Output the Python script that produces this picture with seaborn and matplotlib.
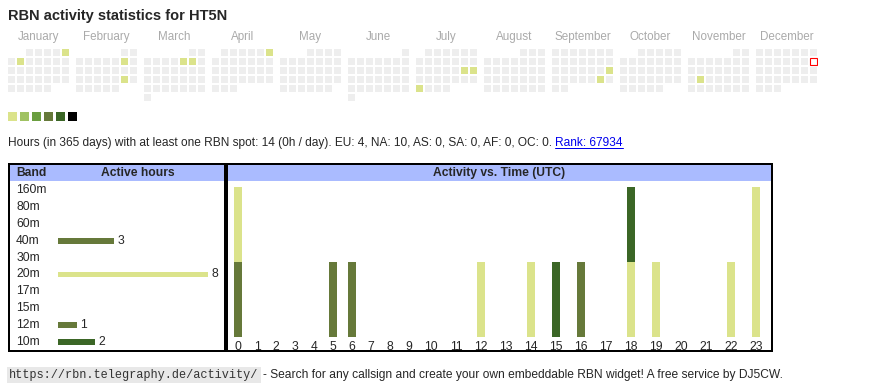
import numpy as np
import pandas as pd
import matplotlib
matplotlib.use("Agg")
import matplotlib.pyplot as plt
from matplotlib.colors import ListedColormap
from matplotlib.patches import Rectangle
from matplotlib.lines import Line2D
import seaborn as sns

# ---- data ----
callsign = "HT5N"
year = 2025
months = ["January", "February", "March", "April", "May", "June", "July",
          "August", "September", "October", "November", "December"]
active_days = ["2025-01-05", "2025-01-07", "2025-02-08", "2025-02-22",
               "2025-03-07", "2025-03-08", "2025-04-06", "2025-07-19",
               "2025-07-20", "2025-07-28", "2025-09-21", "2025-09-27",
               "2025-11-18"]
today = "2025-12-14"
level_colors = ["#dbe38b", "#a0c262", "#6a9e3f", "#66793a", "#3b6626", "#000000"]

bands = ["160m", "80m", "60m", "40m", "30m", "20m", "17m", "15m", "12m", "10m"]
band_hours = [0, 0, 0, 3, 0, 8, 0, 0, 1, 2]
band_colors = {"160m": "#cccccc", "80m": "#cccccc", "60m": "#cccccc",
               "40m": "#66793a", "30m": "#cccccc", "20m": "#dbe38b",
               "17m": "#cccccc", "15m": "#cccccc", "12m": "#66793a",
               "10m": "#3b6626"}

hours = list(range(24))
act_40m = [1, 0, 0, 0, 0, 1, 1, 0, 0, 0, 0, 0, 0, 0, 0, 0, 0, 0, 0, 0, 0, 0, 0, 0]
act_20m = [1, 0, 0, 0, 0, 0, 0, 0, 0, 0, 0, 0, 1, 0, 1, 0, 0, 0, 1, 1, 0, 0, 1, 2]
act_12m = [0, 0, 0, 0, 0, 0, 0, 0, 0, 0, 0, 0, 0, 0, 0, 0, 1, 0, 0, 0, 0, 0, 0, 0]
act_10m = [0, 0, 0, 0, 0, 0, 0, 0, 0, 0, 0, 0, 0, 0, 0, 1, 0, 0, 1, 0, 0, 0, 0, 0]

summary = ("Hours (in 365 days) with at least one RBN spot: 14 (0h / day). "
           "EU: 4, NA: 10, AS: 0, SA: 0, AF: 0, OC: 0.")
rank = 67934
url = "https://rbn.telegraphy.de/activity/"
footer = "- Search for any callsign and create your own embeddable RBN widget! A free service by DJ5CW."

# ---- style ----
W, H = 870, 390
HEADER_BLUE = "#aabbff"
FS = 8.7

sns.set_theme(style="white")
plt.rcParams["font.family"] = ["Liberation Sans", "DejaVu Sans"]

fig = plt.figure(figsize=(W / 100, H / 100), dpi=100)


def px_axes(x0, y0, x1, y1):
    # axes from pixel box (origin top-left)
    return fig.add_axes([x0 / W, 1 - y1 / H, (x1 - x0) / W, (y1 - y0) / H])


def px_text(x, y, s, **kw):
    return fig.text(x / W, 1 - y / H, s, **kw)


# ---- calendar ----
days = pd.date_range(f"{year}-01-01", f"{year}-12-31")
active = set(pd.to_datetime(active_days))
today_ts = pd.Timestamp(today)
cal_cmap = ListedColormap(["#eeeeee", level_colors[0]])

for m in range(12):
    md = days[days.month == m + 1]
    offset = md[0].weekday()
    grid = np.full((6, 7), np.nan)
    for d in md:
        r, c = (d.day - 1 + offset) // 7, d.weekday()
        grid[r, c] = 1.0 if d in active else 0.0
    ax = px_axes(7 + 68 * m, 48, 70 + 68 * m, 102)
    today_cell = None
    if today_ts.month == m + 1:
        today_cell = ((today_ts.day - 1 + offset) // 7, today_ts.weekday())
        grid[today_cell] = np.nan
    sns.heatmap(grid, ax=ax, cmap=cal_cmap, vmin=0, vmax=1, cbar=False,
                linewidths=1.44, linecolor="white",
                xticklabels=False, yticklabels=False)
    if today_cell is not None:
        r, c = today_cell
        ax.add_patch(Rectangle((c + 1 / 9, r + 1 / 9), 7 / 9, 7 / 9, fill=False,
                               edgecolor="red", lw=0.8))
    ax.set_title(months[m], color="#aaaaaa", fontsize=8.4, pad=6.1)

# level legend
lax = px_axes(6.5, 110, 78.5, 122)
sns.heatmap([list(range(len(level_colors)))], ax=lax, cmap=ListedColormap(level_colors),
            vmin=-0.5, vmax=len(level_colors) - 0.5, cbar=False,
            linewidths=2.16, linecolor="white", xticklabels=False, yticklabels=False)

# ---- texts ----
px_text(8, 20, f"RBN activity statistics for {callsign}", fontsize=10.5,
        fontweight="bold", va="baseline")
t_sum = px_text(8, 146, summary, fontsize=8.6, va="baseline")
renderer = fig.canvas.get_renderer()
ext = t_sum.get_window_extent(renderer=renderer)
t_rank = px_text(ext.x1 + 3, 146, f"Rank: {rank}", fontsize=8.6, va="baseline", color="#0000ee")
ext_r = t_rank.get_window_extent(renderer=renderer)
fig.add_artist(Line2D([ext_r.x0 / W, ext_r.x1 / W], [1 - 147.5 / H] * 2,
                      transform=fig.transFigure, color="#0000ee", lw=0.72))

t_url = px_text(9, 378, url, family=["Liberation Mono", "DejaVu Sans Mono"], fontsize=8.6,
                va="baseline", color="#333333",
                bbox=dict(facecolor="#e8e8e8", edgecolor="none", pad=1.6))
ext_u = t_url.get_window_extent(renderer=renderer)
px_text(ext_u.x1 + 5, 378, footer, fontsize=8.65, va="baseline")


# ---- framed tables ----
def framed_box(x0, x1):
    fr = px_axes(x0, 164.3, x1, 351.3)
    fr.set_xlim(0, 1)
    fr.set_ylim(0, 1)
    fr.axhspan((351.3 - 181) / (351.3 - 164.3), 1, color=HEADER_BLUE, lw=0)
    fr.set_xticks([])
    fr.set_yticks([])
    for s in fr.spines.values():
        s.set_visible(True)
        s.set_color("black")
        s.set_linewidth(1.44)
    return fr


framed_box(9, 224.6)
framed_box(227, 771.7)
px_text(16, 173, "Band", fontsize=FS, fontweight="bold", va="center")
px_text(138, 173, "Active hours", fontsize=FS, fontweight="bold", va="center", ha="center")
px_text(499.3, 173, "Activity vs. Time (UTC)", fontsize=FS, fontweight="bold",
        va="center", ha="center")

# band bars
bax = px_axes(58, 181.2, 223, 350.8)
bax.patch.set_alpha(0)
sns.barplot(x=band_hours, y=bands, hue=bands, palette=band_colors, orient="h",
            width=0.35, legend=False, errorbar=None, linewidth=0, saturation=1, ax=bax)
bax.set_xlim(0, (223 - 58) / 18.75)
for cont in bax.containers:
    v = cont.datavalues[0]
    if v > 0:
        bax.bar_label(cont, labels=[f"{v:g}"], padding=2.2, fontsize=FS)
bax.set_yticks(range(len(bands)), bands, ha="left", va="center")
bax.tick_params(axis="y", length=0, pad=30.2, labelsize=FS)
bax.set_xticks([])
bax.set_xlabel("")
bax.set_ylabel("")
sns.despine(ax=bax, left=True, bottom=True)

# activity vs time, stacked bottom-to-top in band order
aax = px_axes(228.5, 187, 768.5, 337)
aax.patch.set_alpha(0)
hour_w = np.where(np.array(hours) < 10, 19, 25)  # table columns widen for two-digit labels
hour_x = np.cumsum(hour_w) - hour_w / 2
layers = [("40m", act_40m), ("20m", act_20m), ("12m", act_12m), ("10m", act_10m)]
cum = np.cumsum([v for _, v in layers], axis=0)
for (band, _), top in reversed(list(zip(layers, cum))):
    sns.barplot(x=hour_x, y=top, native_scale=True, color=band_colors[band],
                width=8 / 19, errorbar=None, linewidth=0, saturation=1, ax=aax)
aax.set_xlim(0, hour_w.sum())
aax.set_ylim(0, cum[-1].max())
aax.set_xticks(hour_x, [str(h) for h in hours])
aax.set_yticks([])
aax.tick_params(axis="x", length=0, pad=3.2, labelsize=FS)
aax.set_xlabel("")
aax.set_ylabel("")
sns.despine(ax=aax, left=True, bottom=True)

fig.savefig("out.png", dpi=100)
